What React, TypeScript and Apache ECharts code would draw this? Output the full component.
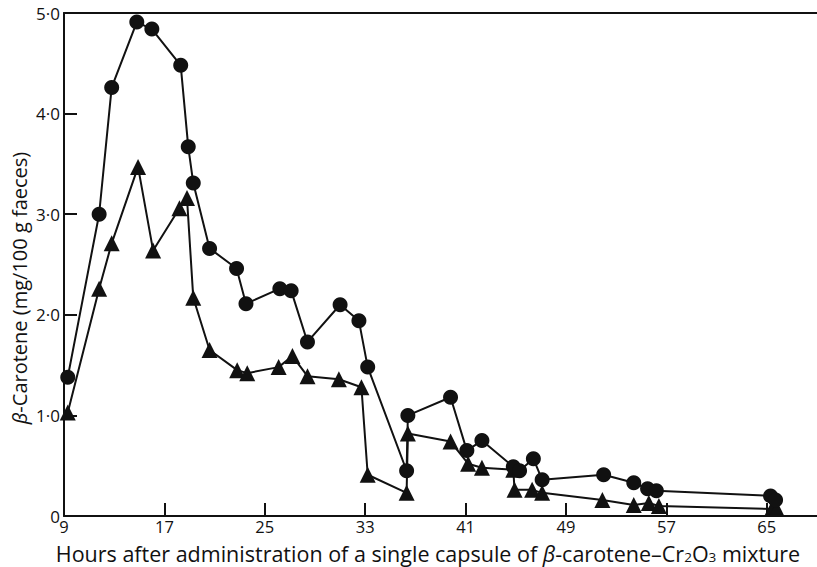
import React, { useEffect, useRef } from "react";
import * as echarts from "echarts";

const circleHours = [9.3, 11.8, 12.8, 14.8, 16.0, 18.3, 18.9, 19.3, 20.6, 22.75, 23.5, 26.2, 27.1, 28.4, 31.0, 32.5, 33.2, 36.3, 36.4, 39.8, 41.1, 42.3, 44.8, 45.3, 46.4, 47.1, 52.0, 54.4, 55.5, 56.2, 65.3, 65.7];
const circleCarotene = [1.38, 3.0, 4.26, 4.91, 4.84, 4.48, 3.67, 3.31, 2.66, 2.46, 2.11, 2.26, 2.24, 1.73, 2.1, 1.94, 1.48, 0.45, 1.0, 1.18, 0.65, 0.75, 0.49, 0.45, 0.57, 0.36, 0.41, 0.33, 0.27, 0.25, 0.2, 0.16];

const triangleHours = [9.3, 11.8, 12.8, 14.9, 16.1, 18.2, 18.8, 19.3, 20.6, 22.8, 23.6, 26.1, 27.2, 28.4, 30.9, 32.7, 33.2, 36.3, 36.4, 39.8, 41.2, 42.3, 44.8, 44.9, 46.3, 47.1, 51.9, 54.4, 55.6, 56.4, 65.4, 65.8];
const triangleCarotene = [1.03, 2.26, 2.71, 3.47, 2.64, 3.06, 3.16, 2.17, 1.65, 1.45, 1.42, 1.48, 1.59, 1.39, 1.36, 1.28, 0.41, 0.23, 0.82, 0.74, 0.52, 0.48, 0.46, 0.26, 0.26, 0.23, 0.16, 0.11, 0.13, 0.1, 0.07, 0.07];

const xTicks = [9, 17, 25, 33, 41, 49, 57, 65];
const yTicks = [0, 1, 2, 3, 4, 5];

const xTitle = "Hours after administration of a single capsule of {i|β}-carotene–Cr{s|2}O{s|3} mixture";
const yTitle = "{i|β}-Carotene (mg/100 g faeces)";

const FONT = "Open Sans";
const INK = "#111";

export default function App() {
  const ref = useRef<HTMLDivElement>(null);
  useEffect(() => {
    if (!ref.current) return;
    const chart = echarts.init(ref.current, null, { renderer: "svg" });
    const circleData = circleHours.map((h, i) => [h, circleCarotene[i]]);
    const triData = triangleHours.map((h, i) => [h, triangleCarotene[i]]);
    chart.setOption({
      animation: false,
      backgroundColor: "#fff",
      grid: { left: 64, right: 0, top: 13, bottom: 51 },
      xAxis: [
        {
          type: "value",
          min: 9,
          max: 69,
          splitLine: { show: false },
          axisLine: { show: true, onZero: false, lineStyle: { color: INK, width: 2 } },
          axisTick: { show: true, inside: true, length: 13, customValues: xTicks, lineStyle: { color: INK, width: 2 } },
          axisLabel: { customValues: xTicks, color: INK, fontFamily: FONT, fontSize: 16.5, lineHeight: 17, margin: 2 },
        },
        {
          type: "value",
          position: "top",
          min: 9,
          max: 69,
          splitLine: { show: false },
          axisLine: { show: true, onZero: false, lineStyle: { color: INK, width: 2 } },
          axisTick: { show: false },
          axisLabel: { show: false },
        },
      ],
      yAxis: {
        type: "value",
        min: 0,
        max: 5,
        interval: 1,
        splitLine: { show: false },
        axisLine: { show: true, onZero: false, lineStyle: { color: INK, width: 2 } },
        axisTick: { show: true, inside: true, length: 13, customValues: [1, 2, 3, 4], lineStyle: { color: INK, width: 2 } },
        axisLabel: {
          customValues: yTicks,
          color: INK,
          fontFamily: FONT,
          fontSize: 17,
          lineHeight: 18,
          margin: 4,
          formatter: (v: number) => (v === 0 ? "0" : v.toFixed(1).replace(".", "·")),
        },
      },
      graphic: [
        {
          type: "text",
          x: 428,
          y: 553,
          style: {
            text: xTitle,
            fill: INK,
            fontFamily: FONT,
            fontSize: 21.5,
            lineHeight: 21,
            align: "center",
            verticalAlign: "middle",
            rich: {
              i: { fontStyle: "italic", fontFamily: FONT, fontSize: 21.5, lineHeight: 21, fill: INK },
              s: { fontFamily: FONT, fontSize: 13.5, lineHeight: 16, fill: INK, verticalAlign: "bottom" },
            },
          },
        },
        {
          type: "text",
          x: 19,
          y: 288,
          rotation: Math.PI / 2,
          style: {
            text: yTitle,
            fill: INK,
            fontFamily: FONT,
            fontSize: 20,
            lineHeight: 22,
            align: "center",
            verticalAlign: "middle",
            rich: { i: { fontStyle: "italic", fontFamily: FONT, fontSize: 20, lineHeight: 22, fill: INK } },
          },
        },
      ],
      series: [
        {
          type: "line",
          data: triData,
          symbol: "triangle",
          symbolSize: 16,
          itemStyle: { color: INK },
          lineStyle: { color: INK, width: 2 },
          z: 2,
        },
        {
          type: "line",
          data: circleData,
          symbol: "circle",
          symbolSize: 15,
          itemStyle: { color: INK },
          lineStyle: { color: INK, width: 2 },
          z: 3,
        },
      ],
    });
    return () => chart.dispose();
  }, []);
  return <div ref={ref} style={{ width: 817, height: 567, position: "absolute", left: 0, top: 0 }} />;
}
